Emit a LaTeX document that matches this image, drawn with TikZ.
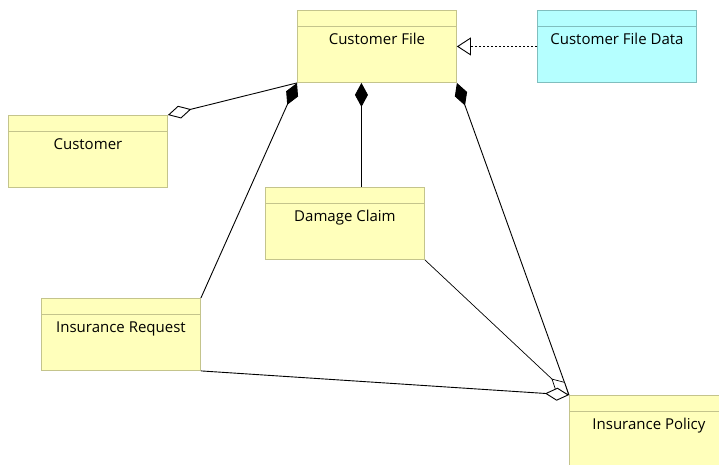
\documentclass[tikz,border=0pt]{standalone}
\usepackage{fontspec}
\setmainfont{Open Sans}
\usetikzlibrary{arrows.meta}
\definecolor{ylfill}{RGB}{255,255,187}
\definecolor{ylborder}{RGB}{196,196,140}
\definecolor{cyfill}{RGB}{181,255,255}
\definecolor{cyborder}{RGB}{128,190,190}
\tikzset{
  classbox/.style={draw=ylborder, fill=ylfill, line width=0.9pt, rectangle, anchor=north west,
    minimum width=159pt, minimum height=72pt, inner sep=0pt,
    path picture={\draw[ylborder, line width=0.9pt] ([yshift=-16pt]path picture bounding box.north west) -- ([yshift=-16pt]path picture bounding box.north east);},
    label={[anchor=base, yshift=-34pt, inner sep=0pt, font=\fontsize{15}{17}\selectfont, text=black]north:#1}},
  databox/.style={classbox=#1, draw=cyborder, fill=cyfill,
    path picture={\draw[cyborder, line width=0.9pt] ([yshift=-16pt]path picture bounding box.north west) -- ([yshift=-16pt]path picture bounding box.north east);}},
  link/.style={draw=black, line width=0.9pt},
  compo/.style={link, {Diamond[length=24pt,width=13pt]}-},
  aggr/.style={link, -{Diamond[open,fill=white,length=24pt,width=13pt]}},
  realize/.style={draw=black, line width=0.9pt, dash pattern=on 2pt off 2pt, -{Triangle[open,fill=white,length=14pt,width=18pt]}}
}
\begin{document}
\begin{tikzpicture}[x=1pt,y=-1pt]
\useasboundingbox (0,0) rectangle (719,464);
\clip (0,0) rectangle (719,464);
\node[classbox=Customer File] (cf) at (297,10) {};
\node[databox=Customer File Data] (cfd) at (537,10) {};
\node[classbox=Customer] (cust) at (8,115) {};
\node[classbox=Damage Claim] (dc) at (265,187) {};
\node[classbox=Insurance Request] (ir) at (41,298) {};
\node[classbox=Insurance Policy] (ip) at (569,395) {};
\draw[realize] (cfd.west) -- (cf.east);
\draw[aggr] (cf.south west) -- (cust.north east);
\draw[compo] (cf.south west) -- (ir.north east);
\draw[compo] ([xshift=-15.5pt]cf.south) -- ([xshift=16.5pt]dc.north);
\draw[compo] (cf.south east) -- (ip.north west);
\draw[aggr, line width=0.7pt] (dc.south east) -- (ip.north west);
\draw[aggr] (ir.south east) -- (ip.north west);
\end{tikzpicture}
\end{document}
